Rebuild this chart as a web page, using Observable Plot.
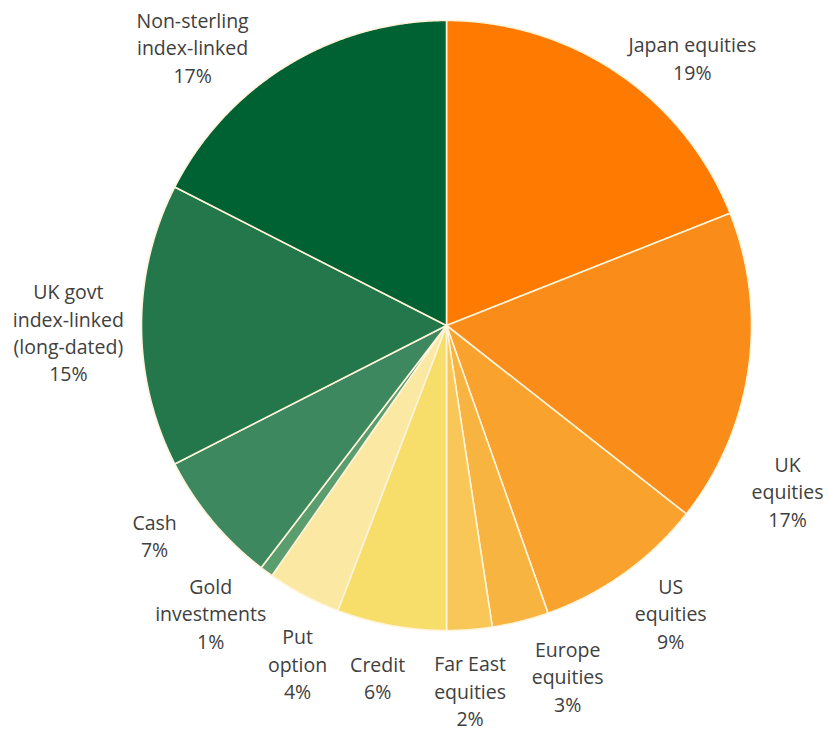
<!DOCTYPE html>
<html><head><meta charset="utf-8">
<script src="https://cdn.jsdelivr.net/npm/d3@7"></script>
<script src="https://cdn.jsdelivr.net/npm/@observablehq/plot@0.6"></script>
<style>body{margin:0;background:#fff}</style>
</head><body><div id="chart"></div>
<script>
// ---- data ----
const categories = ["Japan equities", "UK equities", "US equities", "Europe equities", "Far East equities",
  "Credit", "Put option", "Gold investments", "Cash", "UK govt index-linked (long-dated)", "Non-sterling index-linked"];
const shares = [19.0, 16.6, 9.0, 3.0, 2.4, 5.8, 3.9, 0.7, 7.1, 15.0, 17.5];
const pctLabels = ["19%", "17%", "9%", "3%", "2%", "6%", "4%", "1%", "7%", "15%", "17%"];
const colors = ["#FF7A00", "#FA8C1A", "#F9A22E", "#F8B441", "#F8C757", "#F7DE6B", "#FBE8A2",
  "#5A9E70", "#3E8860", "#23774A", "#006133"];

// ---- layout (label wrapping and placement) ----
const wrapped = ["Japan equities", "UK\nequities", "US\nequities", "Europe\nequities", "Far East\nequities",
  "Credit", "Put\noption", "Gold\ninvestments", "Cash", "UK govt\nindex-linked\n(long-dated)", "Non-sterling\nindex-linked"];
const labelAngleDeg = [42.5, 115.8, 142.0, 160.9, 176.3, 191.1, 203.8, 219.4, 234.4, 269.1, 317.7];
const labelRadius = [1.193, 1.242, 1.194, 1.214, 1.198, 1.173, 1.21, 1.218, 1.177, 1.24, 1.237];

const W = 829, H = 731, cx = 446, cy = 325, R = 305;

const arcs = d3.pie().sort(null).value(d => d)(shares);
const poly = [];
arcs.forEach((a, i) => {
  poly.push({cat: categories[i], x: 0, y: 0});
  const n = Math.max(4, Math.ceil((a.endAngle - a.startAngle) / (Math.PI / 720)));
  for (let k = 0; k <= n; k++) {
    const t = a.startAngle + (a.endAngle - a.startAngle) * k / n;
    poly.push({cat: categories[i], x: Math.sin(t), y: Math.cos(t)});
  }
});
const labels = categories.map((c, i) => {
  const t = labelAngleDeg[i] * Math.PI / 180;
  return {cat: c, text: wrapped[i] + "\n" + pctLabels[i], x: labelRadius[i] * Math.sin(t), y: labelRadius[i] * Math.cos(t)};
});

const chart = Plot.plot({
  width: W, height: H, margin: 0,
  x: {domain: [-cx / R, (W - cx) / R], axis: null},
  y: {domain: [-(H - cy) / R, cy / R], axis: null},
  color: {domain: categories, range: colors},
  style: {fontFamily: "'Open Sans', sans-serif", background: "#fff"},
  marks: [
    Plot.line(poly, {x: "x", y: "y", z: "cat", fill: "cat", stroke: "#FFF4DA", strokeWidth: 1.6, curve: "linear-closed"}),
    Plot.text(labels, {x: "x", y: "y", text: "text", fill: "#404040", fontSize: 19.5, lineHeight: 1.41})
  ]
});
document.getElementById("chart").append(chart);
</script>
</body></html>
